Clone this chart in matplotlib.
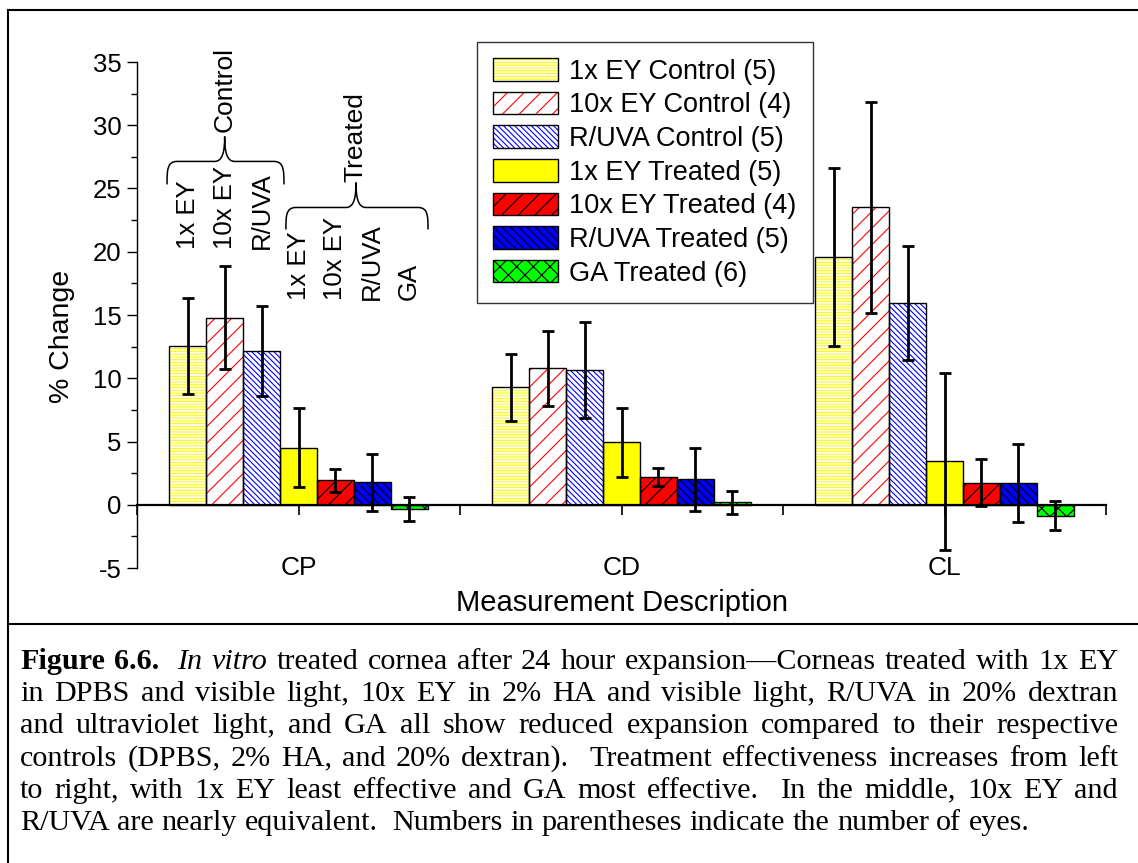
import matplotlib
matplotlib.use('Agg')
import matplotlib.pyplot as plt
import numpy as np
from matplotlib.patches import Patch, PathPatch
from matplotlib.path import Path
from matplotlib.lines import Line2D
from matplotlib.ticker import MultipleLocator

plt.rcParams['font.family'] = ['Liberation Sans', 'DejaVu Sans']
plt.rcParams['axes.unicode_minus'] = False
plt.rcParams['hatch.linewidth'] = 0.8

# data
categories = ['CP', 'CD', 'CL']
series = ['1x EY Control (5)', '10x EY Control (4)', 'R/UVA Control (5)',
          '1x EY Treated (5)', '10x EY Treated (4)', 'R/UVA Treated (5)',
          'GA Treated (6)']
ey1_control = [12.56, 9.27, 19.6]
ey10_control = [14.8, 10.8, 23.5]
ruva_control = [12.14, 10.64, 15.96]
ey1_treated = [4.5, 4.95, 3.42]
ey10_treated = [1.92, 2.19, 1.74]
ruva_treated = [1.76, 2.03, 1.74]
ga_treated = [-0.32, 0.18, -0.87]

ey1_control_err = [3.79, 2.62, 7.02]
ey10_control_err = [4.05, 2.96, 8.36]
ruva_control_err = [3.55, 3.8, 4.5]
ey1_treated_err = [3.13, 2.72, 6.97]
ey10_treated_err = [0.93, 0.7, 1.85]
ruva_treated_err = [2.22, 2.49, 3.07]
ga_treated_err = [0.94, 0.91, 1.14]

means = [ey1_control, ey10_control, ruva_control, ey1_treated,
         ey10_treated, ruva_treated, ga_treated]
errors = [ey1_control_err, ey10_control_err, ruva_control_err, ey1_treated_err,
          ey10_treated_err, ruva_treated_err, ga_treated_err]

# fill colour, hatch colour, hatch
styles = [('white', '#ffff00', '------'),
          ('white', '#ff0000', '//'),
          ('white', '#0000ff', '\\' * 6),
          ('#ffff00', '#ffff00', ''),
          ('#ff0000', 'black', '//'),
          ('#0000ff', 'black', '\\' * 4),
          ('#00ff00', 'black', 'xx')]

control_labels = ['1x EY', '10x EY', 'R/UVA']
treated_labels = ['1x EY', '10x EY', 'R/UVA', 'GA']

W, H = 1138, 863
fig = plt.figure(figsize=(W / 100, H / 100), dpi=100)
ax = fig.add_axes([137 / W, 1 - 568 / H, 969 / W, 506 / H])

x = np.arange(1, len(categories) + 1)
n = len(series)
width = 0.8 / n
handles = []
positions = []
for i in range(n):
    pos = x - 0.4 + width * (i + 0.5)
    positions.append(pos)
    face, hcol, hatch = styles[i]
    ax.bar(pos, means[i], width, color=face, edgecolor=hcol, hatch=hatch,
           linewidth=0, zorder=2)
    ax.bar(pos, means[i], width, fill=False, edgecolor='black', linewidth=1.0, zorder=3)
    ax.errorbar(pos, means[i], yerr=errors[i], fmt='none', ecolor='black',
                elinewidth=2, capsize=4, capthick=2, zorder=4)
    handles.append((Patch(facecolor=face, edgecolor=hcol, hatch=hatch, linewidth=0),
                    Patch(fill=False, edgecolor='black', linewidth=1.0)))

ax.set_xlim(0.5, 3.5)
ax.set_ylim(-5, 35)
for s in ['top', 'right']:
    ax.spines[s].set_visible(False)
ax.spines['bottom'].set_position(('data', 0))
ax.spines['bottom'].set_linewidth(1.6)
ax.spines['left'].set_linewidth(1.0)

ax.set_xticks(x)
ax.set_xticklabels(categories, fontsize=19)
ax.xaxis.set_minor_locator(MultipleLocator(0.5))
ax.tick_params(axis='x', which='both', direction='out', length=7, width=1.2, pad=30)
ax.yaxis.set_major_locator(MultipleLocator(5))
ax.yaxis.set_minor_locator(MultipleLocator(2.5))
ax.tick_params(axis='y', which='major', length=7, width=1, labelsize=18.5, pad=4)
ax.tick_params(axis='y', which='minor', length=4, width=1)

ax.set_ylabel('% Change', fontsize=20.5)
ax.yaxis.set_label_coords(-0.0774, 0.458)
ax.yaxis.label.set_va('center')
ax.set_xlabel('Measurement Description', fontsize=21)
ax.xaxis.set_label_coords(0.5, -0.069)
ax.xaxis.label.set_va('center')

leg = ax.legend(handles, series, loc='upper left', fontsize=19.5,
                bbox_to_anchor=(477 / W, 1 - 42 / H), bbox_transform=fig.transFigure,
                borderaxespad=0, borderpad=0.6, handlelength=2.4, handleheight=0.9,
                handletextpad=0.4, labelspacing=0.26, fancybox=False, framealpha=1)
leg.get_frame().set_edgecolor('#333333')
leg.get_frame().set_linewidth(1.0)


def brace(x0, x1, xm, y_line, y_end, y_tip, rx):
    verts = [(x0, y_end), (x0, y_end + 0.6 * (y_line - y_end)), (x0, y_line), (x0 + rx, y_line),
             (xm - rx, y_line),
             (xm - 0.2 * rx, y_line), (xm, y_line + 0.4 * (y_tip - y_line)), (xm, y_tip),
             (xm, y_line + 0.4 * (y_tip - y_line)), (xm + 0.2 * rx, y_line), (xm + rx, y_line),
             (x1 - rx, y_line),
             (x1, y_line), (x1, y_end + 0.6 * (y_line - y_end)), (x1, y_end)]
    codes = [Path.MOVETO, Path.CURVE4, Path.CURVE4, Path.CURVE4, Path.LINETO,
             Path.CURVE4, Path.CURVE4, Path.CURVE4, Path.CURVE4, Path.CURVE4, Path.CURVE4,
             Path.LINETO, Path.CURVE4, Path.CURVE4, Path.CURVE4]
    ax.add_patch(PathPatch(Path(verts, codes), fill=False, edgecolor='black',
                           linewidth=1.1, clip_on=False, zorder=5))


# group annotations over the CP bars
for j, lab in enumerate(control_labels):
    ax.text(positions[j][0], 20.25, lab, rotation=90, ha='center', va='bottom', fontsize=18.5)
for j, lab in enumerate(treated_labels):
    ax.text(positions[j + 3][0], 16.2, lab, rotation=90, ha='center', va='bottom', fontsize=18.5)
brace(0.593, 0.955, positions[1][0], 27.14, 25.32, 29.11, 0.031)
ax.text(positions[1][0], 29.43, 'Control', rotation=90, ha='center', va='bottom', fontsize=19)
brace(0.961, 1.401, 1.178, 23.5, 21.76, 25.47, 0.031)
ax.text(1.175, 25.55, 'Treated', rotation=90, ha='center', va='bottom', fontsize=19)

# frame lines around figure and caption
for xs, ys in [([8 / W, 1], [1 - 10 / H, 1 - 10 / H]),
               ([8 / W, 8 / W], [0, 1 - 10 / H]),
               ([8 / W, 1], [1 - 624 / H, 1 - 624 / H])]:
    fig.add_artist(Line2D(xs, ys, transform=fig.transFigure, color='black', linewidth=1.5))

# justified caption
caption = [
    'Figure 6.6.  In vitro treated cornea after 24 hour expansion\u2014Corneas treated with 1x EY',
    'in DPBS and visible light, 10x EY in 2% HA and visible light, R/UVA in 20% dextran',
    'and ultraviolet light, and GA all show reduced expansion compared to their respective',
    'controls (DPBS, 2% HA, and 20% dextran).  Treatment effectiveness increases from left',
    'to right, with 1x EY least effective and GA most effective.  In the middle, 10x EY and',
    'R/UVA are nearly equivalent.  Numbers in parentheses indicate the number of eyes.',
]
serif = ['Liberation Serif', 'DejaVu Serif']
renderer = fig.canvas.get_renderer()
probe = fig.text(0, 0, caption[-1], fontsize=18, family=serif)
probe_w = probe.get_window_extent(renderer=renderer).width
probe.remove()
cap_size = 18 * 1010 / probe_w
left, right = 20 / W, 1118 / W
space = cap_size * 0.25 * 100 / 72 / W
for k, line in enumerate(caption):
    y = 1 - (669 + 32.2 * k) / H
    items = []
    g = 0
    for p in line.split(' '):
        if p == '':
            g += 1
            continue
        items.append((p, g))
        g = 1
    texts = []
    for idx, (word, gap) in enumerate(items):
        weight, style = 'normal', 'normal'
        if k == 0 and idx < 2:
            weight = 'bold'
        elif k == 0 and idx < 4:
            style = 'italic'
        t = fig.text(0, y, word, fontsize=cap_size, family=serif,
                     weight=weight, style=style, ha='left', va='baseline')
        texts.append(t)
    widths = [t.get_window_extent(renderer=renderer).width / W for t in texts]
    total_gap = sum(gp for _, gp in items)
    if k < len(caption) - 1:
        unit = (right - left - sum(widths)) / total_gap
    else:
        unit = space
    pos = left
    for t, w, (_, gap) in zip(texts, widths, items):
        pos += gap * unit
        t.set_x(pos)
        pos += w

fig.savefig('out.png', dpi=100)
